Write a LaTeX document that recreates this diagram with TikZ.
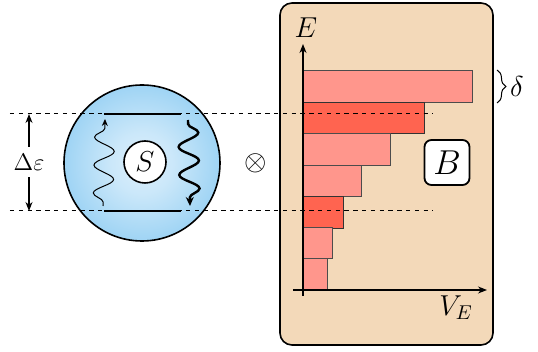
\documentclass[tikz,border=0pt]{standalone}
\usetikzlibrary{decorations.pathmorphing,decorations.pathreplacing,arrows.meta}
\definecolor{panel}{RGB}{243,217,185}
\definecolor{barlight}{RGB}{255,150,140}
\definecolor{bardark}{RGB}{255,100,80}
\definecolor{ballin}{RGB}{222,240,252}
\definecolor{ballout}{RGB}{92,182,236}
\pgfdeclareradialshading{ball}{\pgfpoint{0bp}{0bp}}{color(0bp)=(ballin); color(10bp)=(ballin!85!ballout); color(48bp)=(ballout); color(100bp)=(ballout)}
\tikzset{
  bar/.style={draw=black!70, line width=0.5pt, fill=barlight},
  bardk/.style={draw=black!80, line width=0.5pt, fill=bardark},
  level/.style={dash pattern=on 2.2pt off 2.2pt, line width=0.5pt},
  tip/.style={-{Stealth[length=4.5pt,width=3.5pt]}},
}
\begin{document}
\begin{tikzpicture}[x=0.5pt,y=-0.5pt]
\path[use as bounding box] (0,0) rectangle (538,352);
% bath panel
\node[draw, line width=0.8pt, fill=panel, rounded corners=6pt, minimum width=106.5pt, minimum height=171pt, inner sep=0pt] (panel) at (386.5,174) {};
% bars
\node[bar, minimum width=84.5pt, minimum height=16pt, inner sep=0pt, anchor=north west] (b1) at (303,70) {};
\node[bardk, minimum width=60.5pt, minimum height=15.5pt, inner sep=0pt, anchor=north west] (b2) at (303,102) {};
\node[bar, minimum width=43.5pt, minimum height=16pt, inner sep=0pt, anchor=north west] (b3) at (303,133) {};
\node[bar, minimum width=29pt, minimum height=15.5pt, inner sep=0pt, anchor=north west] (b4) at (303,165) {};
\node[bardk, minimum width=20pt, minimum height=16pt, inner sep=0pt, anchor=north west] (b5) at (303,196) {};
\node[bar, minimum width=14.5pt, minimum height=15.5pt, inner sep=0pt, anchor=north west] (b6) at (303,227) {};
\node[bar, minimum width=12pt, minimum height=16pt, inner sep=0pt, anchor=north west] (b7) at (303,258) {};
% axes
\coordinate (yb) at (303,296);
\coordinate (yt) at (303,44);
\coordinate (xl) at (293,290);
\coordinate (xr) at (487,290);
\draw[tip, line width=0.6pt] (yb) -- (yt);
\draw[tip, line width=0.6pt] (xl) -- (xr);
\node (E) at (306,28) {\Large $E$};
\node (VE) at (456,308) {\Large $V_E$};
% B box
\node[draw, line width=0.9pt, fill=white, rounded corners=3.5pt, minimum width=22.5pt, minimum height=22.5pt, inner sep=0pt] (B) at (447,162.5) {\LARGE $B$};
% brace
\coordinate (brt) at (497,70);
\coordinate (brb) at (497,103);
\draw[decorate, decoration={brace, amplitude=4.5pt}, line width=0.5pt] (brt) -- (brb);
\node (delta) at (517,87) {\Large $\delta$};
% system ball
\node[circle, draw, line width=0.8pt, shading=ball, minimum size=78pt, inner sep=0pt] (ball) at (142,163) {};
\node[circle, draw, line width=0.8pt, fill=white, minimum size=21pt, inner sep=0pt] (S) at (145,162) {\Large $S$};
% level lines
\coordinate (l1a) at (10,114);
\coordinate (l1b) at (433,114);
\coordinate (l2a) at (10,211);
\coordinate (l2b) at (433,211);
\draw[level] (l1a) -- (l1b);
\draw[level] (l2a) -- (l2b);
\coordinate (s1a) at (104,114);
\coordinate (s1b) at (181,114);
\coordinate (s2a) at (104,211);
\coordinate (s2b) at (181,211);
\draw[line width=0.7pt] (s1a) -- (s1b);
\draw[line width=0.7pt] (s2a) -- (s2b);
% Delta epsilon
\node (de) at (29,162) {\large $\Delta\varepsilon$};
\coordinate (det) at (29,114);
\coordinate (deb) at (29,211);
\draw[tip, line width=0.6pt] (de) -- (det);
\draw[tip, line width=0.6pt] (de) -- (deb);
% wavy arrows
\coordinate (w1a) at (103,206);
\coordinate (w1b) at (105,119);
\draw[-{Stealth[length=3.5pt,width=3pt]}, line width=0.5pt, decorate, decoration={snake, amplitude=5pt, segment length=14pt, pre length=2pt, post length=2.5pt}] (w1a) -- (w1b);
\coordinate (w2a) at (188,120);
\coordinate (w2b) at (190,206);
\draw[-{Stealth[length=4.5pt,width=4pt]}, line width=1.2pt, decorate, decoration={snake, amplitude=5pt, segment length=14pt, pre length=2pt, post length=3pt}] (w2a) -- (w2b);
% tensor product
\node (otimes) at (256,163) {\Large $\otimes$};
\end{tikzpicture}
\end{document}
